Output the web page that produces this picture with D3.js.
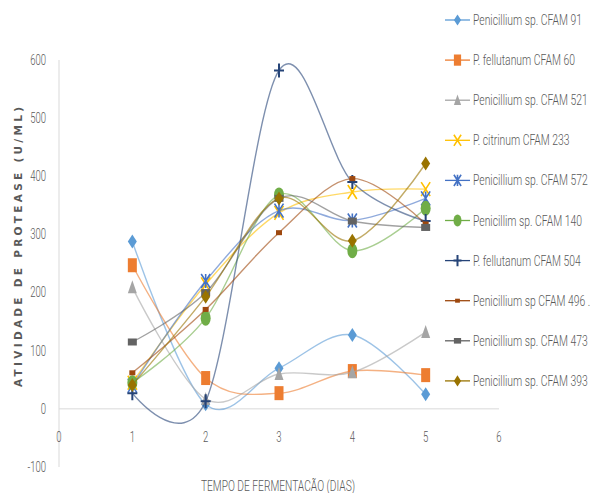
<!DOCTYPE html>
<html><head><meta charset="utf-8">
<script src="https://cdn.jsdelivr.net/npm/d3@7"></script>
<style>body{margin:0;background:#fff}svg{display:block}</style>
</head><body>
<svg id="chart" width="592" height="493"></svg>
<script>
const days = [1, 2, 3, 4, 5];
const seriesNames = [
  "Penicillium sp. CFAM 91",
  "P. fellutanum CFAM 60",
  "Penicillium sp. CFAM 521",
  "P. citrinum CFAM 233",
  "Penicillium sp.  CFAM 572",
  "Penicillim sp. CFAM 140",
  "P. fellutanum CFAM 504",
  "Penicillium sp CFAM 496 .",
  "Penicillium sp. CFAM 473",
  "Penicillium sp. CFAM 393"
];
const cfam91  = [288, 8, 70, 127, 25];
const cfam60  = [247, 53, 27, 65, 58];
const cfam521 = [209, 17, 60, 63, 132];
const cfam233 = [45, 214, 337, 373, 378];
const cfam572 = [40, 220, 341, 324, 362];
const cfam140 = [45, 156, 368, 272, 345];
const cfam504 = [27, 13, 582, 390, 323];
const cfam496 = [62, 171, 303, 396, 318];
const cfam473 = [115, 200, 362, 323, 312];
const cfam393 = [41, 193, 362, 289, 422];
const seriesValues = [cfam91, cfam60, cfam521, cfam233, cfam572, cfam140, cfam504, cfam496, cfam473, cfam393];
const seriesColors = ["#5B9BD5", "#ED7D31", "#A5A5A5", "#FFC000", "#4472C4", "#70AD47", "#264478", "#9E480E", "#636363", "#997300"];
const markerTypes = ["diamond", "square", "triangle", "x", "star", "circle", "plus", "smallsq", "graysq", "diamond"];
const xTicks = [0, 1, 2, 3, 4, 5, 6];
const yTicks = [-100, 0, 100, 200, 300, 400, 500, 600];

const svg = d3.select("#chart");
const font = "Roboto,'Liberation Sans',sans-serif";
const x = d3.scaleLinear().domain([0, 6]).range([59, 499]);
const y = d3.scaleLinear().domain([-100, 600]).range([467, 60]);

function condText(parent, tx, ty, str, anchor, size, sx) {
  return parent.append("text")
    .attr("transform", `translate(${tx},${ty}) scale(${sx},1)`)
    .attr("dy", "0.35em").attr("text-anchor", anchor)
    .attr("font-family", font).attr("font-size", size).attr("font-weight", 300)
    .attr("fill", "#595959").text(str);
}

// axes lines
svg.append("line").attr("x1", x(0)).attr("x2", x(0)).attr("y1", y(600)).attr("y2", y(-100))
  .attr("stroke", "#d9d9d9").attr("stroke-width", 1);
svg.append("line").attr("x1", x(0)).attr("x2", x(6)).attr("y1", y(0)).attr("y2", y(0))
  .attr("stroke", "#d9d9d9").attr("stroke-width", 1);

// tick labels
const gy = svg.append("g");
yTicks.forEach(d => condText(gy, 46, y(d), d, "end", 14, 0.68));
const gx = svg.append("g");
xTicks.forEach(d => condText(gx, x(d), y(0) + 28, d, "middle", 14, 0.68));

// axis titles
svg.append("text").attr("transform", `translate(18,247) rotate(-90)`)
  .attr("dy", "0.35em")
  .attr("text-anchor", "middle").attr("font-family", "'DejaVu Sans',sans-serif")
  .attr("font-size", 10.5).attr("font-weight", "bold")
  .attr("textLength", 280).attr("lengthAdjust", "spacing")
  .attr("fill", "#595959").text("ATIVIDADE DE PROTEASE (U/ML)");
condText(svg, 278, 486, "TEMPO DE FERMENTACÃO (DIAS)", "middle", 14, 0.73);

function drawMarker(g, type, color, cx, cy, scale) {
  const s = scale || 1;
  if (type === "diamond") {
    g.append("path").attr("d", `M${cx},${cy-7*s}L${cx+4.5*s},${cy}L${cx},${cy+7*s}L${cx-4.5*s},${cy}Z`).attr("fill", color);
  } else if (type === "square") {
    g.append("rect").attr("x", cx-4.5*s).attr("y", cy-7*s).attr("width", 9*s).attr("height", 14*s).attr("fill", color);
  } else if (type === "triangle") {
    g.append("path").attr("d", `M${cx},${cy-7*s}L${cx+4.5*s},${cy+6*s}L${cx-4.5*s},${cy+6*s}Z`).attr("fill", color);
  } else if (type === "x") {
    g.append("path").attr("d", `M${cx-4.5*s},${cy-7*s}L${cx+4.5*s},${cy+7*s}M${cx+4.5*s},${cy-7*s}L${cx-4.5*s},${cy+7*s}`)
      .attr("stroke", color).attr("stroke-width", 1.6).attr("fill", "none");
  } else if (type === "star") {
    g.append("path").attr("d", `M${cx-4.5*s},${cy-7*s}L${cx+4.5*s},${cy+7*s}M${cx+4.5*s},${cy-7*s}L${cx-4.5*s},${cy+7*s}M${cx},${cy-7*s}L${cx},${cy+7*s}`)
      .attr("stroke", color).attr("stroke-width", 1.6).attr("fill", "none");
  } else if (type === "circle") {
    g.append("ellipse").attr("cx", cx).attr("cy", cy).attr("rx", 5*s).attr("ry", 7.5*s).attr("fill", color);
  } else if (type === "plus") {
    g.append("path").attr("d", `M${cx-5*s},${cy}L${cx+5*s},${cy}M${cx},${cy-7*s}L${cx},${cy+7*s}`)
      .attr("stroke", color).attr("stroke-width", 2).attr("fill", "none");
  } else if (type === "smallsq") {
    g.append("rect").attr("x", cx-3*s).attr("y", cy-2.5*s).attr("width", 6*s).attr("height", 5*s).attr("fill", color);
  } else if (type === "graysq") {
    g.append("rect").attr("x", cx-4.5*s).attr("y", cy-3.5*s).attr("width", 9*s).attr("height", 7*s).attr("fill", color);
  }
}

const line = d3.line().x(d => x(d[0])).y(d => y(d[1])).curve(d3.curveCardinal.tension(0));
const plot = svg.append("g");
seriesValues.forEach((vals, i) => {
  const g = plot.append("g");
  const pts = days.map((d, j) => [d, vals[j]]);
  g.append("path").attr("d", line(pts)).attr("fill", "none")
    .attr("stroke", seriesColors[i]).attr("stroke-width", 1.4).attr("stroke-opacity", 0.6);
  pts.forEach(p => drawMarker(g, markerTypes[i], seriesColors[i], x(p[0]), y(p[1]), 1));
});

// legend
const legend = svg.append("g");
seriesNames.forEach((name, i) => {
  const ly = 20 + i * 40.1;
  const g = legend.append("g");
  g.append("line").attr("x1", 445).attr("x2", 470).attr("y1", ly).attr("y2", ly)
    .attr("stroke", seriesColors[i]).attr("stroke-width", 1.3);
  drawMarker(g, markerTypes[i], seriesColors[i], 457.5, ly, 0.8);
  condText(g, 473, ly, name, "start", 14.5, 0.715);
});
</script>
</body></html>
